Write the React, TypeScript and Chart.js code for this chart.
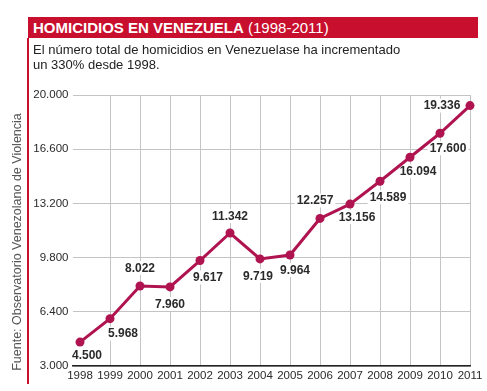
import { useEffect, useRef } from "react";
import { Chart, registerables } from "chart.js";

Chart.register(...registerables);

const years = [1998, 1999, 2000, 2001, 2002, 2003, 2004, 2005, 2006, 2007, 2008, 2009, 2010, 2011];
const homicides = [4500, 5968, 8022, 7960, 9617, 11342, 9719, 9964, 12257, 13156, 14589, 16094, 17600, 19336];
const yTickValues = [3000, 6400, 9800, 13200, 16600, 20000];

const titleBold = "HOMICIDIOS EN VENEZUELA";
const titleYears = "(1998-2011)";
const subtitleLine1 = "El número total de homicidios en Venezuelase ha incrementado";
const subtitleLine2 = "un 330% desde 1998.";
const sourceText = "Fuente: Observatorio Venezolano de Violencia";

// label placement (offset of label centre from its point, in px)
const labelDx = [7, 13, 0, 0, 8, 0, -2, 5, -5, 7, 8, 8, 8, -28];
const labelDy = [13, 15, -18, 17, 17, -17, 17, 15, -18, 13, 16, 14, 15, 0];

const FONT = "'Liberation Sans', Arial, Helvetica, sans-serif";
const LINE_COLOR = "#b01450";
const RED = "#c8102e";

const fmt = (v: number) => String(Math.round(v)).replace(/\B(?=(\d{3})+(?!\d))/g, ".");

const LABEL_FONT = `bold 12px ${FONT}`;

const pointLabels = {
  id: "pointLabels",
  beforeDatasetsDraw(chart: any) {
    const ctx = chart.ctx;
    const meta = chart.getDatasetMeta(0);
    ctx.save();
    ctx.font = LABEL_FONT;
    meta.data.forEach((pt: any, i: number) => {
      const x = pt.x + labelDx[i];
      const y = pt.y + labelDy[i];
      const w = ctx.measureText(fmt(homicides[i])).width;
      ctx.fillStyle = "#ffffff";
      ctx.fillRect(x - w / 2 - 2, y - 7, w + 4, 14);
    });
    ctx.restore();
  },
  afterDatasetsDraw(chart: any) {
    const ctx = chart.ctx;
    const meta = chart.getDatasetMeta(0);
    ctx.save();
    ctx.font = LABEL_FONT;
    ctx.textAlign = "center";
    ctx.textBaseline = "middle";
    ctx.fillStyle = "#2a2a2a";
    meta.data.forEach((pt: any, i: number) => {
      ctx.fillText(fmt(homicides[i]), pt.x + labelDx[i], pt.y + labelDy[i] + 0.5);
    });
    ctx.restore();
  },
};

export default function App() {
  const canvasRef = useRef<HTMLCanvasElement>(null);

  useEffect(() => {
    if (!canvasRef.current) return;
    const chart = new Chart(canvasRef.current, {
      type: "line",
      data: {
        datasets: [
          {
            data: years.map((yr, i) => ({ x: yr, y: homicides[i] })),
            borderColor: LINE_COLOR,
            backgroundColor: LINE_COLOR,
            borderWidth: 3,
            pointRadius: 4.5,
            pointBackgroundColor: LINE_COLOR,
            pointBorderWidth: 0,
            tension: 0,
            clip: false as any,
          },
        ],
      },
      options: {
        animation: false,
        responsive: false,
        maintainAspectRatio: false,
        events: [],
        layout: { padding: { left: 0, top: 95, right: 17, bottom: 0 } },
        plugins: { legend: { display: false }, tooltip: { enabled: false }, title: { display: false } },
        scales: {
          x: {
            type: "linear",
            min: 1997.75,
            max: 2011,
            afterBuildTicks: (scale: any) => {
              scale.ticks = years.map((v) => ({ value: v }));
            },
            afterFit: (scale: any) => {
              scale.height = 25;
            },
            grid: {
              drawTicks: false,
              color: (c: any) => (c.tick && c.tick.value === years[0] ? "rgba(0,0,0,0)" : "#c4c4c4"),
              lineWidth: 1,
            },
            border: { display: true, color: "#222222", width: 1.5 },
            ticks: {
              padding: 3,
              color: "#2a2a2a",
              font: { family: FONT, size: 11.5 },
              maxRotation: 0,
              autoSkip: false,
              callback: (v: any) => String(v),
            },
          },
          y: {
            type: "linear",
            min: yTickValues[0],
            max: yTickValues[yTickValues.length - 1],
            afterBuildTicks: (scale: any) => {
              scale.ticks = yTickValues.map((v) => ({ value: v }));
            },
            afterFit: (scale: any) => {
              scale.width = 72.5;
            },
            grid: { drawTicks: false, color: "#c4c4c4", lineWidth: 1 },
            border: { display: false },
            ticks: {
              padding: 4,
              color: "#2a2a2a",
              font: { family: FONT, size: 11.5 },
              callback: (v: any) => fmt(Number(v)),
            },
          },
        },
      },
      plugins: [pointLabels],
    });
    return () => chart.destroy();
  }, []);

  return (
    <div
      style={{
        position: "fixed",
        left: 0,
        top: 0,
        width: 487,
        height: 391,
        background: "#ffffff",
        overflow: "hidden",
        fontFamily: FONT,
      }}
    >
      <canvas ref={canvasRef} width={487} height={391} style={{ position: "absolute", left: 0, top: 0, width: 487, height: 391 }} />
      <div style={{ position: "absolute", left: 28, top: 17, width: 450, height: 21, background: RED }} />
      <div
        style={{
          position: "absolute",
          left: 33,
          top: 17,
          height: 21,
          lineHeight: "21px",
          color: "#ffffff",
          fontSize: 15,
          whiteSpace: "nowrap",
        }}
      >
        <span style={{ fontWeight: "bold" }}>{titleBold}</span> {titleYears}
      </div>
      <div style={{ position: "absolute", left: 27, top: 38, width: 2, height: 346, background: RED }} />
      <div
        style={{
          position: "absolute",
          left: 33,
          top: 42,
          fontSize: 13,
          lineHeight: "15px",
          color: "#222222",
          whiteSpace: "nowrap",
        }}
      >
        {subtitleLine1}
        <br />
        {subtitleLine2}
      </div>
      <div
        style={{
          position: "absolute",
          left: 17,
          top: 242,
          transform: "translate(-50%, -50%) rotate(-90deg)",
          fontSize: 12.5,
          color: "#555555",
          whiteSpace: "nowrap",
        }}
      >
        {sourceText}
      </div>
    </div>
  );
}
